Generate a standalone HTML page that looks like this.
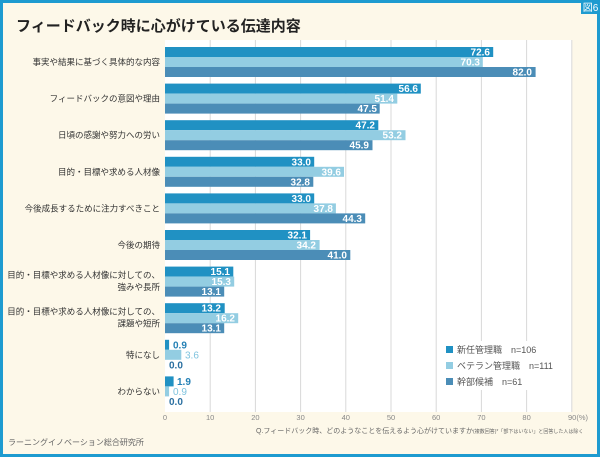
<!DOCTYPE html>
<html><head><meta charset="utf-8"><style>
body{margin:0;width:600px;height:457px;overflow:hidden;background:#fff}
svg{display:block}
text{font-family:"Liberation Sans","Noto Sans CJK JP",sans-serif}
.v{font-size:10px;font-weight:bold;fill:#fff;text-anchor:end}
.c{font-size:8.5px;fill:#333;text-anchor:end}
.t{font-size:7.5px;fill:#888;text-anchor:middle}
.a{fill:#2091c3}.b{fill:#93cde2}.d{fill:#4b8db7}
</style></head><body>
<svg width="600" height="457" viewBox="0 0 600 457">
<rect x="1.5" y="1.5" width="597" height="454" fill="#fdf8e9" stroke="#1e9bd0" stroke-width="3"/>
<rect x="581" y="0" width="19" height="14" fill="#1e9bd0"/>
<text x="590.5" y="11" font-size="10" fill="#fff" text-anchor="middle">図6</text>
<text x="16" y="31" font-size="15" font-weight="bold" fill="#222">フィードバック時に心がけている伝達内容</text>
<rect x="165" y="40" width="407" height="372" fill="#fff"/>
<g stroke="#d8d8d8" stroke-width="1">
<line x1="210.2" y1="40" x2="210.2" y2="412"/><line x1="255.4" y1="40" x2="255.4" y2="412"/><line x1="300.6" y1="40" x2="300.6" y2="412"/><line x1="345.8" y1="40" x2="345.8" y2="412"/><line x1="391" y1="40" x2="391" y2="412"/><line x1="436.2" y1="40" x2="436.2" y2="412"/><line x1="481.4" y1="40" x2="481.4" y2="412"/><line x1="526.6" y1="40" x2="526.6" y2="412"/><line x1="571.8" y1="40" x2="571.8" y2="412"/>
</g>
<g>
<rect class="a" x="165" y="47" width="328.2" height="10"/><rect class="b" x="165" y="57" width="317.8" height="10"/><rect class="d" x="165" y="67" width="370.6" height="10"/>
<rect class="a" x="165" y="83.6" width="255.8" height="10"/><rect class="b" x="165" y="93.6" width="232.3" height="10"/><rect class="d" x="165" y="103.6" width="214.7" height="10"/>
<rect class="a" x="165" y="120.2" width="213.3" height="10"/><rect class="b" x="165" y="130.2" width="240.5" height="10"/><rect class="d" x="165" y="140.2" width="207.5" height="10"/>
<rect class="a" x="165" y="156.8" width="149.2" height="10"/><rect class="b" x="165" y="166.8" width="179" height="10"/><rect class="d" x="165" y="176.8" width="148.3" height="10"/>
<rect class="a" x="165" y="193.4" width="149.2" height="10"/><rect class="b" x="165" y="203.4" width="170.9" height="10"/><rect class="d" x="165" y="213.4" width="200.2" height="10"/>
<rect class="a" x="165" y="230" width="145.1" height="10"/><rect class="b" x="165" y="240" width="154.6" height="10"/><rect class="d" x="165" y="250" width="185.3" height="10"/>
<rect class="a" x="165" y="266.6" width="68.3" height="10"/><rect class="b" x="165" y="276.6" width="69.2" height="10"/><rect class="d" x="165" y="286.6" width="59.2" height="10"/>
<rect class="a" x="165" y="303.2" width="59.7" height="10"/><rect class="b" x="165" y="313.2" width="73.2" height="10"/><rect class="d" x="165" y="323.2" width="59.2" height="10"/>
<rect class="a" x="165" y="339.8" width="4.1" height="10"/><rect class="b" x="165" y="349.8" width="16.3" height="10"/>
<rect class="a" x="165" y="376.4" width="8.6" height="10"/><rect class="b" x="165" y="386.4" width="4.1" height="10"/>
</g>
<g class="v">
<text class="v" x="490" y="55.5">72.6</text><text class="v" x="480" y="65.5">70.3</text><text class="v" x="532" y="75.5">82.0</text>
<text class="v" x="418" y="92">56.6</text><text class="v" x="394" y="102">51.4</text><text class="v" x="377" y="112">47.5</text>
<text class="v" x="375" y="128.7">47.2</text><text class="v" x="402" y="138.7">53.2</text><text class="v" x="369" y="148.7">45.9</text>
<text class="v" x="311" y="165.3">33.0</text><text class="v" x="341" y="175.3">39.6</text><text class="v" x="310" y="185.3">32.8</text>
<text class="v" x="311" y="201.9">33.0</text><text class="v" x="333" y="211.9">37.8</text><text class="v" x="362" y="221.9">44.3</text>
<text class="v" x="307" y="238.5">32.1</text><text class="v" x="316" y="248.5">34.2</text><text class="v" x="347" y="258.5">41.0</text>
<text class="v" x="230" y="275.1">15.1</text><text class="v" x="231" y="285.1">15.3</text><text class="v" x="221" y="295.1">13.1</text>
<text class="v" x="221" y="311.7">13.2</text><text class="v" x="235" y="321.7">16.2</text><text class="v" x="221" y="331.7">13.1</text>
</g>
<g font-size="10" font-weight="bold">
<text x="173" y="348.3" fill="#2480b5">0.9</text><text x="185" y="358.3" fill="#7fc3de" font-weight="normal">3.6</text><text x="169" y="368.3" fill="#2a6fa0">0.0</text>
<text x="177" y="384.9" fill="#2480b5">1.9</text><text x="173" y="394.9" fill="#7fc3de" font-weight="normal">0.9</text><text x="169" y="404.9" fill="#2a6fa0">0.0</text>
</g>
<g class="c">
<text class="c" x="160" y="65">事実や結果に基づく具体的な内容</text>
<text class="c" x="160" y="101.6">フィードバックの意図や理由</text>
<text class="c" x="160" y="138.2">日頃の感謝や努力への労い</text>
<text class="c" x="160" y="174.8">目的・目標や求める人材像</text>
<text class="c" x="160" y="211.4">今後成長するために注力すべきこと</text>
<text class="c" x="160" y="248">今後の期待</text>
<text class="c" x="160" y="278">目的・目標や求める人材像に対しての、</text>
<text class="c" x="160" y="290">強みや長所</text>
<text class="c" x="160" y="314.6">目的・目標や求める人材像に対しての、</text>
<text class="c" x="160" y="326.6">課題や短所</text>
<text class="c" x="160" y="357.8">特になし</text>
<text class="c" x="160" y="394.4">わからない</text>
</g>
<rect x="441" y="341" width="115" height="49" fill="#fff"/>
<rect x="446" y="346" width="7" height="7" fill="#2091c3"/><text x="457" y="353" font-size="9" fill="#555">新任管理職　n=106</text>
<rect x="446" y="362" width="7" height="7" fill="#93cde2"/><text x="457" y="369" font-size="9" fill="#555">ベテラン管理職　n=111</text>
<rect x="446" y="378" width="7" height="7" fill="#4b8db7"/><text x="457" y="385" font-size="9" fill="#555">幹部候補　n=61</text>
<g class="t">
<text class="t" x="165" y="420">0</text><text class="t" x="210.2" y="420">10</text><text class="t" x="255.4" y="420">20</text><text class="t" x="300.6" y="420">30</text><text class="t" x="345.8" y="420">40</text><text class="t" x="391" y="420">50</text><text class="t" x="436.2" y="420">60</text><text class="t" x="481.4" y="420">70</text><text class="t" x="526.6" y="420">80</text><text class="t" x="578" y="420">90(%)</text>
</g>
<text x="256" y="433" font-size="7" fill="#666">Q.フィードバック時、どのようなことを伝えるよう心がけていますか<tspan font-size="5">(複数回答)*「部下はいない」と回答した人は除く</tspan></text>
<text x="8" y="445" font-size="8" fill="#666">ラーニングイノベーション総合研究所</text>
</svg>
</body></html>
